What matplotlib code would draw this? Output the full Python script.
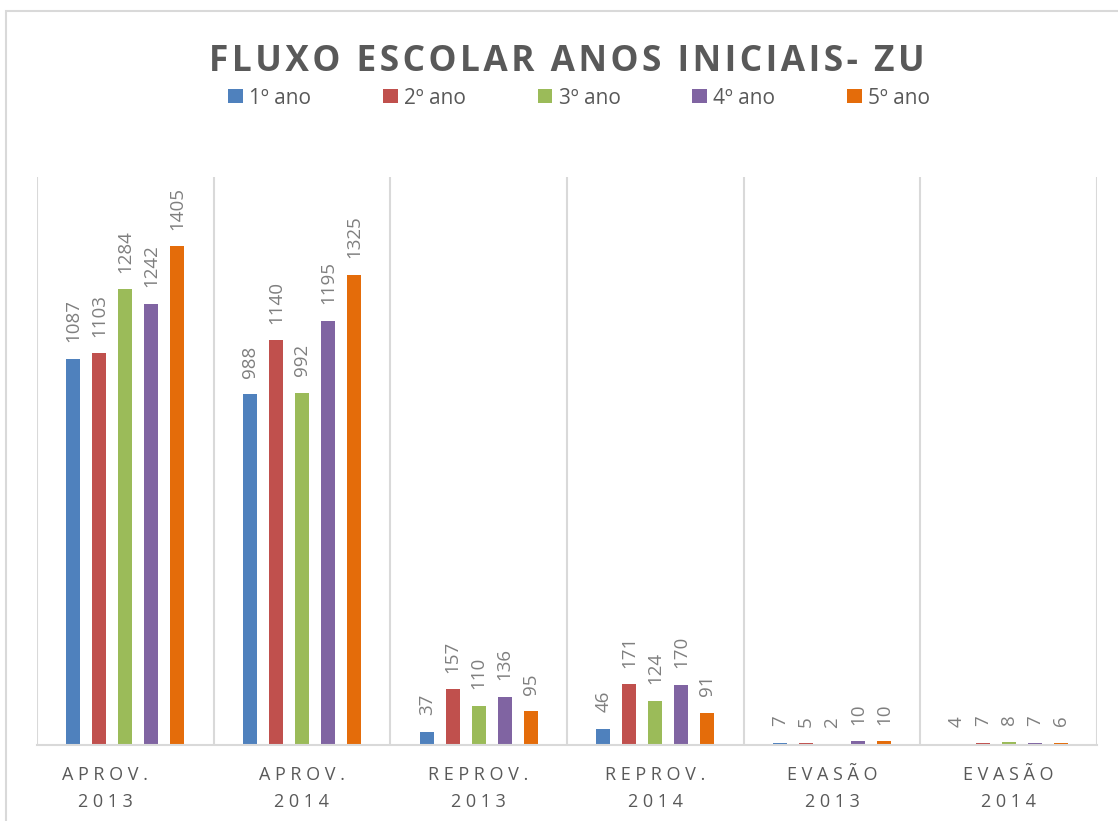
import numpy as np
import matplotlib.pyplot as plt
import matplotlib.transforms as mtransforms
from matplotlib.patches import Rectangle

plt.rcParams['font.family'] = ['Open Sans', 'DejaVu Sans']

categorias = ['APROV.\n2013', 'APROV.\n2014', 'REPROV.\n2013', 'REPROV.\n2014', 'EVASÃO\n2013', 'EVASÃO\n2014']
series = ['1º ano', '2º ano', '3º ano', '4º ano', '5º ano']
ano1 = [1087, 988, 37, 46, 7, 4]
ano2 = [1103, 1140, 157, 171, 5, 7]
ano3 = [1284, 992, 110, 124, 2, 8]
ano4 = [1242, 1195, 136, 170, 10, 7]
ano5 = [1405, 1325, 95, 91, 10, 6]
valores = [ano1, ano2, ano3, ano4, ano5]
cores = ['#4F81BD', '#C0504D', '#9BBB59', '#8064A2', '#E46C0A']


def espacar(txt, sep='\u2009'):
    return '\n'.join(sep.join(linha) for linha in txt.split('\n'))


fig = plt.figure(figsize=(11.18, 8.21), dpi=100)
ax = fig.add_axes([37 / 1118, 76 / 821, 1060 / 1118, 568 / 821])

# moldura do gráfico
fig.patches.append(Rectangle((6 / 1118, -0.2), 1.2, 1.2 - 11 / 821, transform=fig.transFigure,
                             fill=False, edgecolor='#d9d9d9', linewidth=1.5, zorder=0))

x = np.arange(len(categorias))
passo = 0.147
largura = 0.08
for i, (nome, vals, cor) in enumerate(zip(series, valores, cores)):
    pos = x + (i - 2) * passo
    ax.bar(pos, vals, width=largura, color=cor, label=nome, zorder=2)
    for p, v in zip(pos, vals):
        ax.annotate(str(v), (p, v), xytext=(0, 12), textcoords='offset points',
                    rotation=90, ha='center', va='bottom', fontsize=13.5, color='#7f7f7f')

ax.set_xlim(-0.5, len(categorias) - 0.5)
ax.set_ylim(0, 1600)
ax.set_yticks([])
ax.set_xticks(x)
ax.set_xticklabels([espacar(c, ' ') for c in categorias], fontsize=13, color='#595959', linespacing=1.65)
ax.tick_params(axis='x', length=0, pad=15)
# o primeiro rótulo aparece um pouco deslocado para a esquerda no original
rot0 = ax.get_xticklabels()[0]
rot0.set_transform(rot0.get_transform() + mtransforms.ScaledTranslation(-0.2, 0, fig.dpi_scale_trans))
for xv in np.arange(-0.5, len(categorias), 1.0):
    ax.axvline(xv, color='#d9d9d9', linewidth=1.5, zorder=1)
for s in ['top', 'right', 'left']:
    ax.spines[s].set_visible(False)
ax.spines['bottom'].set_color('#d9d9d9')
ax.spines['bottom'].set_linewidth(1.5)

fig.text(0.507, 1 - 62 / 821, espacar('FLUXO ESCOLAR ANOS INICIAIS- ZU', '\u200a'), ha='center', va='center',
         fontsize=25.4, fontweight='bold', color='#595959')

fig.legend(loc='center', bbox_to_anchor=(0.518, 1 - 98 / 821), ncol=5, frameon=False,
           fontsize=15, handlelength=0.7, handleheight=0.7, handletextpad=0.3, columnspacing=3.45,
           labelcolor='#595959')

fig.savefig('out.png', dpi=100)
